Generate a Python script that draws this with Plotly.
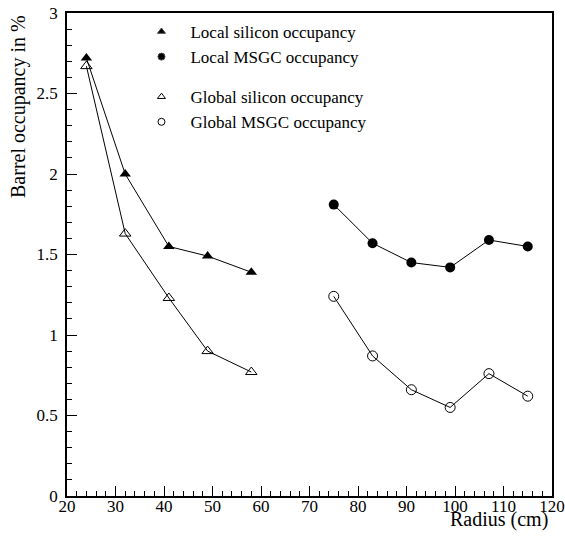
import plotly.graph_objects as go

si_radius = [24, 32, 41, 49, 58]
local_si = [2.72, 2.00, 1.55, 1.49, 1.39]
global_si = [2.67, 1.63, 1.23, 0.90, 0.77]

msgc_radius = [75, 83, 91, 99, 107, 115]
local_msgc = [1.81, 1.57, 1.45, 1.42, 1.59, 1.55]
global_msgc = [1.24, 0.87, 0.66, 0.55, 0.76, 0.62]

names = ["Local silicon occupancy", "Local MSGC occupancy",
         "Global silicon occupancy", "Global MSGC occupancy"]

FONT = "Liberation Serif"
line = dict(color="black", width=1)

fig = go.Figure()
fig.add_trace(go.Scatter(x=si_radius, y=local_si, mode="lines+markers", line=line,
                         marker=dict(symbol="triangle-up", size=10, color="black"), showlegend=False))
fig.add_trace(go.Scatter(x=si_radius, y=global_si, mode="lines+markers", line=line,
                         marker=dict(symbol="triangle-up-open", size=10, color="black", line=dict(width=1)),
                         showlegend=False))
fig.add_trace(go.Scatter(x=msgc_radius, y=local_msgc, mode="lines+markers", line=line,
                         marker=dict(symbol="circle", size=10, color="black"), showlegend=False))
fig.add_trace(go.Scatter(x=msgc_radius, y=global_msgc, mode="lines+markers", line=line,
                         marker=dict(symbol="circle-open", size=10, color="black", line=dict(width=1)),
                         showlegend=False))

# legend-only entries
leg = [("triangle-up", names[0], "g1"), ("circle", names[1], "g1"),
       ("triangle-up-open", names[2], "g2"), ("circle-open", names[3], "g2")]
for sym, nm, grp in leg:
    fig.add_trace(go.Scatter(x=[None], y=[None], mode="markers", name=nm, legendgroup=grp,
                             marker=dict(symbol=sym, size=7, color="black", line=dict(width=1))))

tickfont = dict(family=FONT, size=17, color="black")
fig.update_layout(
    width=565, height=537,
    margin=dict(l=67, r=13, t=13, b=41),
    paper_bgcolor="white", plot_bgcolor="white",
    font=dict(family=FONT, size=17, color="black"),
    legend=dict(x=0.135, y=0.998, xanchor="left", yanchor="top", bgcolor="rgba(0,0,0,0)",
                font=dict(family=FONT, size=17), traceorder="grouped", tracegroupgap=15,
                itemwidth=48),
    xaxis=dict(range=[20, 120], dtick=10, tick0=20, ticks="inside", ticklen=10, tickwidth=1,
               tickcolor="black", showline=True, linecolor="black", linewidth=1.5, mirror=True,
               showgrid=False, zeroline=False, tickfont=tickfont, automargin=False,
               ticklabelstandoff=-6,
               minor=dict(dtick=2, ticks="inside", ticklen=5, tickcolor="black", tickwidth=1)),
    yaxis=dict(range=[0, 3], dtick=0.5, tick0=0, ticks="inside", ticklen=10, tickwidth=1,
               tickcolor="black", showline=True, linecolor="black", linewidth=1.5, mirror=True,
               showgrid=False, zeroline=False, tickfont=tickfont, automargin=False,
               ticklabelstandoff=4,
               minor=dict(dtick=0.1, ticks="inside", ticklen=5, tickcolor="black", tickwidth=1)),
    annotations=[
        dict(text="Barrel occupancy in %", xref="paper", yref="paper", x=-0.1, y=1.0,
             xanchor="center", yanchor="top", textangle=-90, showarrow=False,
             font=dict(family=FONT, size=20)),
        dict(text="Radius (cm)", xref="paper", yref="paper", x=0.995, y=-0.02,
             xanchor="right", yanchor="top", showarrow=False,
             font=dict(family=FONT, size=20)),
    ],
)

post = ("document.body.style.margin='0';document.body.style.padding='0';"
        "var gd=document.getElementById('{plot_id}');"
        "gd.style.position='absolute';gd.style.top='0px';gd.style.left='0px';")
fig.write_html("out.html", post_script=post, config={"displayModeBar": False})
